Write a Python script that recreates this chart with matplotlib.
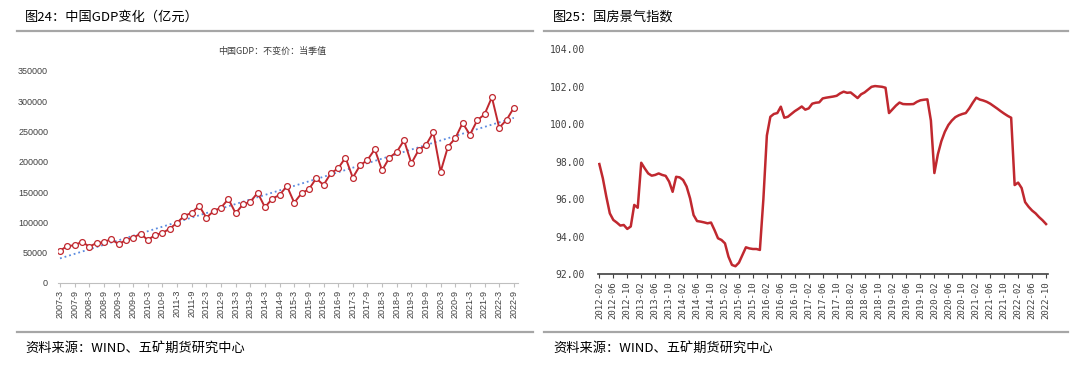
import numpy as np
import matplotlib
matplotlib.use("Agg")
import matplotlib.pyplot as plt
from matplotlib.lines import Line2D

plt.rcParams['font.family'] = ['Noto Sans CJK SC', 'DejaVu Sans']

# ---- data: China GDP, constant price, quarterly (100 million yuan)
gdp_years = list(range(2007, 2023))
gdp = [53300, 61100, 62200, 68200, 60000, 66000, 67200, 72600,
       63900, 71000, 74800, 81400, 71000, 79300, 82600, 89700,
       99600, 111100, 115600, 127600, 107800, 118900, 124300, 138700,
       115100, 129900, 133700, 149100, 125000, 139300, 145300, 160100,
       132600, 148100, 154700, 172800, 161800, 181100, 189300, 206900,
       173900, 194300, 203100, 220700, 186000, 206900, 216300, 235600,
       197600, 219600, 227800, 248800, 183800, 225000, 238900, 264200,
       244800, 268600, 278500, 306600, 256400, 269100, 289400]
gdp_labels = []
for y in gdp_years:
    for q in [3, 6, 9, 12]:
        gdp_labels.append("%d-%d" % (y, q))
gdp_labels = gdp_labels[:len(gdp)]

# ---- data: national real estate climate index, monthly 2012-02 .. 2022-10
house = [97.88, 97.12, 96.14, 95.25, 94.90, 94.76, 94.60, 94.63, 94.42, 94.55,
         95.70, 95.55, 97.95, 97.65, 97.38, 97.26, 97.30, 97.38, 97.30, 97.25,
         96.94, 96.40, 97.20, 97.17, 97.03, 96.68, 96.05, 95.16, 94.84, 94.81,
         94.77, 94.72, 94.76, 94.36, 93.92, 93.83, 93.65, 92.94, 92.50, 92.43,
         92.62, 93.03, 93.44, 93.38, 93.35, 93.35, 93.30, 96.00, 99.40, 100.40,
         100.55, 100.60, 100.94, 100.35, 100.40, 100.55, 100.70, 100.82, 100.95, 100.78,
         100.85, 101.10, 101.15, 101.17, 101.38, 101.42, 101.45, 101.48, 101.52, 101.65,
         101.74, 101.68, 101.70, 101.55, 101.40, 101.60, 101.70, 101.85, 102.00, 102.04,
         102.02, 102.00, 101.95, 100.60, 100.80, 101.00, 101.16, 101.08, 101.07, 101.07,
         101.08, 101.20, 101.28, 101.31, 101.33, 100.20, 97.40, 98.40, 99.10, 99.60,
         99.96, 100.20, 100.38, 100.48, 100.55, 100.60, 100.85, 101.15, 101.42, 101.32,
         101.27, 101.20, 101.10, 100.97, 100.84, 100.70, 100.57, 100.45, 100.35, 96.76,
         96.89, 96.60, 95.85, 95.60, 95.40, 95.25, 95.05, 94.88, 94.68]
house_labels = []
for i in range(len(house)):
    m = 1 + i  # month offset from 2012-01
    yy = 2012 + m // 12
    mm = m % 12 + 1
    house_labels.append("%d-%02d" % (yy, mm))

RED = '#C0282F'
W, H = 1080, 367

fig = plt.figure(figsize=(W / 100, H / 100), dpi=100)

def fx(px):
    return px / W

def fy(py):
    return 1 - py / H

def rule(x0, x1, y):
    fig.add_artist(Line2D([fx(x0), fx(x1)], [fy(y), fy(y)], transform=fig.transFigure,
                          color='#A6A6A6', lw=1.6))

# ---------------- left panel ----------------
ax1 = fig.add_axes([fx(57.8), fy(283), fx(517.5) - fx(57.8), fy(71) - fy(283)])
xs = np.arange(len(gdp))
k, b = np.polyfit(xs, gdp, 1)
ax1.plot(xs, k * xs + b, ls=':', color='#5B8BE0', lw=1.3, zorder=2)
ax1.plot(xs, gdp, color=RED, lw=1.4, marker='o', ms=4.2, mfc='white', mec=RED, mew=0.9, zorder=3)
ax1.set_ylim(0, 350000)
ax1.set_xlim(-0.3, len(gdp) - 0.5)
ax1.set_yticks(np.arange(0, 350001, 50000))
ax1.set_yticklabels([str(v) for v in range(0, 350001, 50000)], family='Liberation Sans',
                    fontsize=6.5, color='#404040')
ax1.set_xticks(xs[::2])
ax1.set_xticklabels(gdp_labels[::2], rotation=90, family='Liberation Sans', fontsize=6.5,
                    color='#404040')
for s in ['top', 'right', 'left']:
    ax1.spines[s].set_visible(False)
ax1.spines['bottom'].set_color('#BFBFBF')
ax1.tick_params(axis='y', length=0, pad=7)
ax1.tick_params(axis='x', length=3, color='#BFBFBF', pad=2)

fig.text(fx(272), fy(51), "中国GDP：不变价：当季值", ha='center', va='center', fontsize=6.5,
         color='#404040')
fig.text(fx(25), fy(17), "图24：中国GDP变化（亿元）", ha='left', va='center', fontsize=9.5)
rule(17, 533, 31)
rule(17, 533, 332)
fig.text(fx(25), fy(348), "资料来源：WIND、五矿期货研究中心", ha='left', va='center', fontsize=9.5)

# ---------------- right panel ----------------
ax2 = fig.add_axes([fx(597.6), fy(274.3), fx(1047.8) - fx(597.6), fy(49.3) - fy(274.3)])
xm = np.arange(len(house))
ax2.plot(xm, house, color=RED, lw=1.8)
ax2.set_ylim(92, 104)
ax2.set_xlim(-0.5, len(house) - 0.5)
ax2.set_yticks(np.arange(92, 104.1, 2))
ax2.set_yticklabels(["%.2f" % v for v in np.arange(92, 104.1, 2)], family='DejaVu Sans Mono',
                    fontsize=7, color='#404040')
ax2.set_xticks(xm[::4])
ax2.set_xticklabels(house_labels[::4], rotation=90, family='DejaVu Sans Mono', fontsize=6.5,
                    color='#404040')
for s in ['top', 'right', 'left']:
    ax2.spines[s].set_visible(False)
ax2.spines['bottom'].set_color('#404040')
ax2.spines['bottom'].set_linewidth(1.2)
ax2.tick_params(axis='y', length=0, pad=9)
ax2.tick_params(axis='x', length=3, color='#404040', pad=2)

fig.text(fx(553), fy(17), "图25：国房景气指数", ha='left', va='center', fontsize=9.5)
rule(544, 1068, 31)
rule(544, 1068, 332)
fig.text(fx(553), fy(348), "资料来源：WIND、五矿期货研究中心", ha='left', va='center', fontsize=9.5)

fig.savefig("out.png", dpi=100, facecolor='white')
